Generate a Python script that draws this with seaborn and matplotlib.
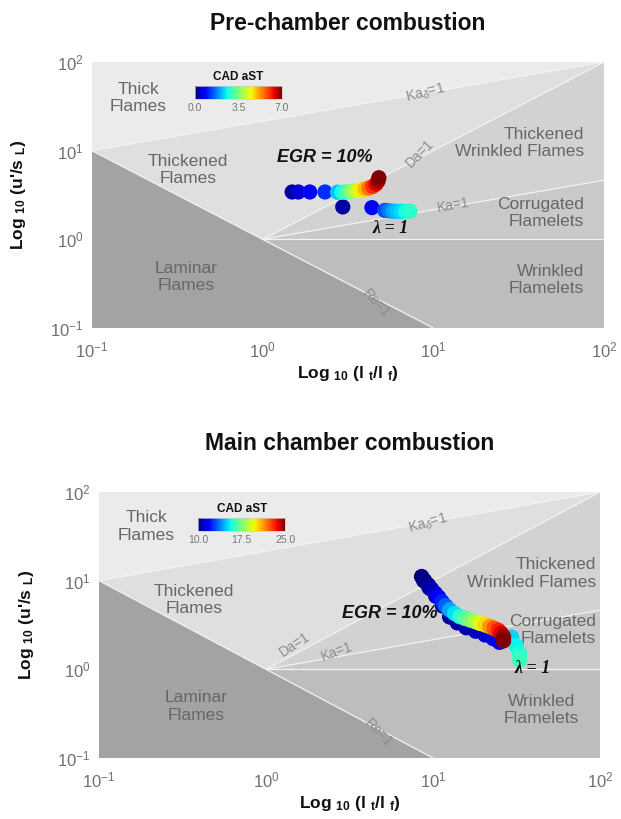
import matplotlib
matplotlib.use("Agg")
import matplotlib.pyplot as plt
import numpy as np
import pandas as pd
import seaborn as sns
from matplotlib.cm import ScalarMappable
from matplotlib.colors import Normalize
from matplotlib.ticker import FixedLocator, NullLocator, LogFormatterSciNotation

sns.set_theme(style="white")
plt.rcParams['font.family'] = ['Liberation Sans', 'DejaVu Sans']
plt.rcParams['mathtext.fontset'] = 'custom'
plt.rcParams['mathtext.rm'] = 'Liberation Sans'
plt.rcParams['mathtext.it'] = 'Liberation Sans:italic'
plt.rcParams['mathtext.bf'] = 'Liberation Sans:bold'

JET = matplotlib.colormaps['jet']

# ---------------- operating points (l_t/l_f, u'/s_L, CAD after spark) ----------------
# Pre-chamber, EGR = 10 %
pre_egr_x = [1.49, 1.62, 1.89, 2.32, 2.75, 2.92, 3.08, 3.25, 3.42, 3.60,
             3.78, 3.98, 4.20, 4.42, 4.62, 4.75, 4.80]
pre_egr_y = [3.42, 3.42, 3.42, 3.42, 3.40, 3.40, 3.42, 3.45, 3.50, 3.55,
             3.62, 3.70, 3.80, 3.95, 4.20, 4.55, 4.95]
pre_egr_cad = [0.2, 0.5, 0.8, 1.2, 2.2, 2.6, 3.0, 3.4, 3.8, 4.2,
               4.6, 5.0, 5.5, 6.0, 6.4, 6.8, 7.0]

# Pre-chamber, lambda = 1
pre_lam_x = [2.95, 4.37, 5.20, 5.50, 5.80, 6.10, 6.50, 6.90, 7.30]
pre_lam_y = [2.32, 2.28, 2.12, 2.10, 2.08, 2.07, 2.07, 2.07, 2.08]
pre_lam_cad = [0.2, 0.8, 1.4, 1.7, 2.0, 2.2, 2.4, 2.6, 2.8]

# Main chamber, EGR = 10 %
main_egr_x = [8.55, 8.90, 9.38, 9.80, 10.3, 10.8, 11.3, 11.9, 12.6, 13.5, 14.5,
              15.6, 16.7, 17.9, 19.1, 20.5, 21.9, 23.2, 24.6, 25.6, 26.4, 26.4]
main_egr_y = [11.1, 10.0, 8.93, 8.00, 7.20, 6.50, 5.80, 5.20, 4.67, 4.25, 3.93,
              3.75, 3.60, 3.45, 3.30, 3.17, 3.03, 2.90, 2.75, 2.55, 2.33, 2.10]
main_egr_cad = [10.0, 10.1, 10.3, 10.6, 11.0, 11.6, 12.4, 13.3, 14.3, 15.2, 16.0,
                16.8, 17.5, 18.3, 19.2, 20.2, 21.2, 22.2, 23.2, 24.0, 24.6, 25.0]

# Main chamber, lambda = 1
main_lam_x = [8.80, 9.50, 10.4, 11.4, 12.6, 14.0, 15.8, 18.0, 20.5, 23.0, 25.0,
              29.5, 31.5, 33.0, 33.0]
main_lam_y = [10.0, 8.30, 6.70, 5.20, 3.90, 3.35, 2.95, 2.70, 2.45, 2.22, 2.02,
              2.30, 1.85, 1.50, 1.28]
main_lam_cad = [10.0, 10.1, 10.2, 10.3, 10.4, 10.5, 10.6, 10.8, 11.0, 11.3, 11.6,
                15.0, 15.5, 16.0, 16.3]

pre_cad_ticks = [0.0, 3.5, 7.0]
main_cad_ticks = [10.0, 17.5, 25.0]

# ---------------- combustion regime diagram ----------------
C_THICK = "#ebebeb"
C_THICKENED = "#dfdfdf"
C_TWF = "#d2d2d2"
C_CORR = "#c9c9c9"
C_WRINKLED = "#bdbdbd"
C_LAMINAR = "#a3a3a3"
LINE_C = "#f3f3f3"
LABEL_C = "#676767"
LINE_LABEL_C = "#8c8c8c"


def draw_regimes(ax):
    ax.set_facecolor(C_THICK)
    # below Ka_delta = 1
    ax.fill([0.1, 100, 100, 0.1], [10, 100, 0.1, 0.1], color=C_THICKENED, lw=0, zorder=0)
    # between Da = 1 and Ka = 1
    ax.fill([1, 100, 100], [1, 100, 10 ** (2 / 3)], color=C_TWF, lw=0, zorder=0)
    # between Ka = 1 and u'/s_L = 1
    ax.fill([1, 100, 100], [1, 10 ** (2 / 3), 1], color=C_CORR, lw=0, zorder=0)
    # u'/s_L < 1
    ax.fill([1, 100, 100, 1], [1, 1, 0.1, 0.1], color=C_WRINKLED, lw=0, zorder=0)
    # Re < 1
    ax.fill([0.1, 10, 0.1], [10, 0.1, 0.1], color=C_LAMINAR, lw=0, zorder=0)
    kw = dict(color=LINE_C, lw=0.9, zorder=1)
    ax.plot([0.1, 100], [10, 100], **kw)
    ax.plot([1, 100], [1, 100], **kw)
    ax.plot([1, 100], [1, 10 ** (2 / 3)], **kw)
    ax.plot([1, 100], [1, 1], **kw)
    ax.plot([0.1, 10], [10, 0.1], **kw)


def style_axes(ax):
    ax.set_xscale('log')
    ax.set_yscale('log')
    ax.set_xlim(0.1, 100)
    ax.set_ylim(0.1, 100)
    for a in (ax.xaxis, ax.yaxis):
        a.set_major_locator(FixedLocator([0.1, 1, 10, 100]))
        a.set_major_formatter(LogFormatterSciNotation())
        a.set_minor_locator(NullLocator())
    ax.tick_params(axis='both', length=0, labelsize=12, colors='#707070')
    ax.tick_params(axis='x', pad=9)
    ax.tick_params(axis='y', pad=6)
    for s in ax.spines.values():
        s.set_visible(False)
    ax.set_xlabel(r"Log $_{\mathbf{10}}$ (l $_{\mathbf{t}}$/l $_{\mathbf{f}}$)",
                  fontsize=12.5, fontweight='bold', color='#111111')
    ax.set_ylabel(r"Log $_{\mathbf{10}}$ (u'/s $_{\mathbf{L}}$)",
                  fontsize=12.5, fontweight='bold', color='#111111')
    ax.xaxis.set_label_coords(0.5, -0.135)
    ax.yaxis.set_label_coords(-0.125, 0.5)


def region_labels(ax, labels):
    for txt, x, y, ha in labels:
        ax.text(x, y, txt, ha=ha, va='center', fontsize=12.5, color=LABEL_C,
                multialignment=ha, zorder=2)


def line_labels(ax, labels):
    for txt, x, y, rot in labels:
        ax.text(x, y, txt, ha='center', va='center', rotation=rot,
                rotation_mode='anchor', fontsize=10, color=LINE_LABEL_C, zorder=2)


def scatter(ax, xs, ys, cs, norm, s):
    df = pd.DataFrame({'x': xs, 'y': ys, 'cad': cs})
    sns.scatterplot(data=df, x='x', y='y', hue='cad', palette=JET,
                    hue_norm=norm, s=s, linewidth=0, legend=False, ax=ax, zorder=4)


def cad_bar(ax, bounds, vmin, vmax, ticks):
    cax = ax.inset_axes(bounds)
    sm = ScalarMappable(norm=Normalize(vmin, vmax), cmap=JET)
    cb = plt.gcf().colorbar(sm, cax=cax, orientation='horizontal', ticks=ticks)
    cb.ax.set_xticklabels([f"{t:.1f}" for t in ticks])
    cb.ax.tick_params(length=0, labelsize=7.5, colors='#777777', pad=3)
    cb.outline.set_edgecolor('#cccccc')
    cb.outline.set_linewidth(0.5)
    cax.set_title("CAD aST", fontsize=8.5, fontweight='bold', color='#111111', pad=4)


fig = plt.figure(figsize=(6.21, 8.19), dpi=100)
fig.patch.set_facecolor('white')

ax1 = fig.add_axes([0.148, 0.5995, 0.8245, 0.3248])
ax2 = fig.add_axes([0.1594, 0.0745, 0.8068, 0.3248])

for ax in (ax1, ax2):
    draw_regimes(ax)

# ---- pre-chamber ----
region_labels(ax1, [
    ("Thick\nFlames", 0.1875, 39.3, 'center'),
    ("Thickened\nFlames", 0.365, 6.05, 'center'),
    ("Laminar\nFlames", 0.356, 0.377, 'center'),
    ("Thickened\nWrinkled Flames", 76.2, 12.2, 'right'),
    ("Corrugated\nFlamelets", 76.2, 1.98, 'right'),
    ("Wrinkled\nFlamelets", 76.2, 0.348, 'right'),
])
line_labels(ax1, [
    (r"Ka$_\delta$=1", 9.0, 44.4, 14),
    ("Da=1", 8.3, 9.3, 45),
    ("Ka=1", 13.1, 2.44, 10),
    ("Re=1", 4.63, 0.19, -47),
])
scatter(ax1, pre_lam_x, pre_lam_y, pre_lam_cad, (0, 7), 120)
scatter(ax1, pre_egr_x, pre_egr_y, pre_egr_cad, (0, 7), 120)
ax1.text(2.32, 8.28, "EGR = 10%", ha='center', va='center', fontsize=13,
         fontweight='bold', fontstyle='italic', color='#111111', zorder=5)
ax1.text(5.65, 1.31, "λ = 1", ha='center', va='center', fontsize=13,
         fontweight='bold', fontstyle='italic', family='Liberation Serif',
         color='#111111', zorder=5)
cad_bar(ax1, [0.201, 0.861, 0.170, 0.049], 0, 7, pre_cad_ticks)
ax1.text(0.5, 1.145, "Pre-chamber combustion", transform=ax1.transAxes,
         ha='center', va='center', fontsize=16.5, fontweight='bold', color='#111111')

# ---- main chamber ----
region_labels(ax2, [
    ("Thick\nFlames", 0.192, 40.6, 'center'),
    ("Thickened\nFlames", 0.371, 6.05, 'center'),
    ("Laminar\nFlames", 0.38, 0.38, 'center'),
    ("Thickened\nWrinkled Flames", 94.6, 12.1, 'right'),
    ("Corrugated\nFlamelets", 94.6, 2.78, 'right'),
    ("Wrinkled\nFlamelets", 44.4, 0.348, 'center'),
])
line_labels(ax2, [
    (r"Ka$_\delta$=1", 9.3, 44.4, 16),
    ("Da=1", 1.49, 1.88, 33),
    ("Ka=1", 2.65, 1.58, 20),
    ("Re=1", 4.7, 0.19, -45),
])
scatter(ax2, main_lam_x, main_lam_y, main_lam_cad, (10, 25), 125)
scatter(ax2, main_egr_x, main_egr_y, main_egr_cad, (10, 25), 125)
ax2.text(5.53, 4.29, "EGR = 10%", ha='center', va='center', fontsize=13,
         fontweight='bold', fontstyle='italic', color='#111111', zorder=5)
ax2.text(39.8, 1.03, "λ = 1", ha='center', va='center', fontsize=13,
         fontweight='bold', fontstyle='italic', family='Liberation Serif',
         color='#111111', zorder=5)
cad_bar(ax2, [0.198, 0.853, 0.174, 0.049], 10, 25, main_cad_ticks)
ax2.text(0.5, 1.184, "Main chamber combustion", transform=ax2.transAxes,
         ha='center', va='center', fontsize=16.5, fontweight='bold', color='#111111')

# scatterplot resets labels, so the axes are styled last
for ax in (ax1, ax2):
    style_axes(ax)

fig.savefig("out.png", dpi=100, facecolor='white')
